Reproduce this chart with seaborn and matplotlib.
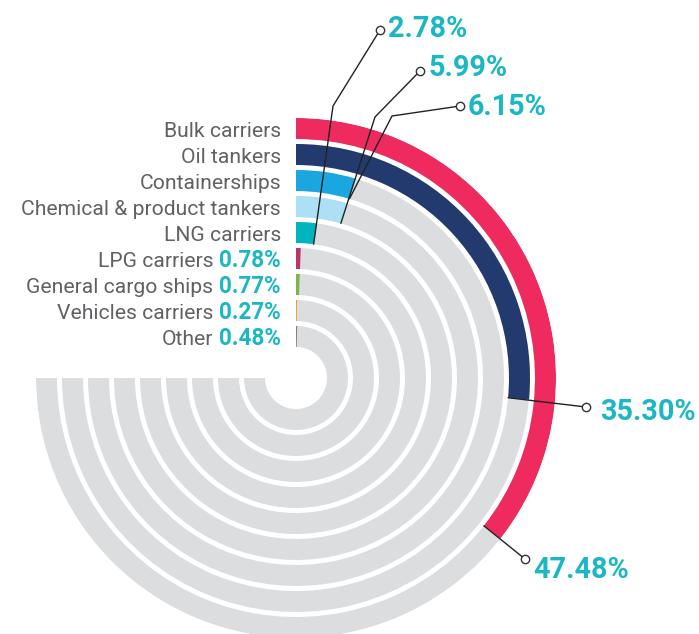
import numpy as np
import matplotlib
matplotlib.use("Agg")
import matplotlib.pyplot as plt
import seaborn as sns

# ---------------- data ----------------
categories = ["Bulk carriers", "Oil tankers", "Containerships",
              "Chemical & product tankers", "LNG carriers", "LPG carriers",
              "General cargo ships", "Vehicles carriers", "Other"]
shares = [47.48, 35.30, 6.15, 5.99, 2.78, 0.78, 0.77, 0.27, 0.48]
bar_colors = ["#EE2A5E", "#233A6E", "#1AA7DF", "#ADE0F5", "#00B5BD",
              "#B8376B", "#7AB547", "#F7941D", "#7F7F7F"]
inline_pct = [False, False, False, False, False, True, True, True, True]

# ---------------- style ----------------
sns.set_theme(style="white")
FONT = ["Roboto", "DejaVu Sans"]
plt.rcParams["font.family"] = FONT
GRAY_BG = "#DCDDDF"
LABEL_C = "#606164"
PCT_C = "#1BB7C3"
palette = sns.color_palette(bar_colors)

W, H = 699, 634
fig = plt.figure(figsize=(W / 100, H / 100), dpi=100)

cx, cy = 296, 378          # centre (pixels from top-left)
RMAX = 260
ax = fig.add_axes([(cx - RMAX) / W, (H - cy - RMAX) / H, 2 * RMAX / W, 2 * RMAX / H],
                  projection="polar")
ax.set_theta_zero_location("N")
ax.set_theta_direction(-1)
ax.set_ylim(0, RMAX)
ax.set_axis_off()

pitch, ring_w = 26, 21
full_span = 1.5 * np.pi    # 100 % == 270 degrees
outer_r = [RMAX - pitch * i for i in range(len(categories))]

for i, (share, col) in enumerate(zip(shares, palette)):
    ax.bar(0, ring_w, width=full_span, bottom=outer_r[i] - ring_w,
           align="edge", color=GRAY_BG, linewidth=0)
    ax.bar(0, ring_w, width=share / 100 * full_span, bottom=outer_r[i] - ring_w,
           align="edge", color=col, linewidth=0)

ov = fig.add_axes([0, 0, 1, 1])
ov.set_xlim(0, W)
ov.set_ylim(H, 0)
ov.set_axis_off()
ov.patch.set_alpha(0)

fig.canvas.draw()
renderer = fig.canvas.get_renderer()


def fit_size(s, target_w, weight="normal"):
    t = ov.text(0, 0, s, fontsize=10, fontweight=weight)
    w = t.get_window_extent(renderer).width
    t.remove()
    return 10 * target_w / w


label_fs = min(fit_size("Chemical & product tankers", 259), 17)
small_pct_fs = min(fit_size("0.78%", 62, "bold"), 17)
big_pct_fs = min(fit_size("35.30%", 95, "bold"), 24)

label_right = 281
for i, name in enumerate(categories):
    yc = cy - (outer_r[i] - ring_w / 2)
    base = yc + 8.5
    x_right = label_right
    if inline_pct[i]:
        t = ov.text(x_right, base, f"{shares[i]:.2f}%", ha="right", va="baseline",
                    fontsize=small_pct_fs, color=PCT_C, fontweight="bold")
        bb = t.get_window_extent(renderer)
        x_right = label_right - bb.width - 6
    ov.text(x_right, base, name, ha="right", va="baseline",
            fontsize=label_fs, color=LABEL_C)

# callouts: (index, bend point or None, circle point, text x, text baseline)
callouts = [
    (0, None, (525, 559), 533, 578),
    (1, None, (586, 407), 600, 420),
    (2, (392, 116), (460, 106), 468, 115),
    (3, (375, 117), (420, 71), 429, 76),
    (4, (333, 106), (380, 30), 388, 37),
]
inv = ov.transData.inverted()
for idx, bend, circ, tx, ty in callouts:
    theta = shares[idx] / 100 * full_span
    r_in = outer_r[idx] - ring_w
    start = inv.transform(ax.transData.transform((theta, r_in)))
    pts = [tuple(start)] + ([bend] if bend else []) + [circ]
    xs, ys = zip(*pts)
    ov.plot(xs, ys, color="#222222", lw=1.0, zorder=5)
    ov.plot([circ[0]], [circ[1]], marker="o", ms=6, mfc="white", mec="#333333",
            mew=1.0, zorder=6)
    ov.text(tx, ty, f"{shares[idx]:.2f}%", ha="left", va="baseline",
            fontsize=big_pct_fs, color=PCT_C, fontweight="bold")

fig.savefig("out.png", dpi=100, facecolor="white")
